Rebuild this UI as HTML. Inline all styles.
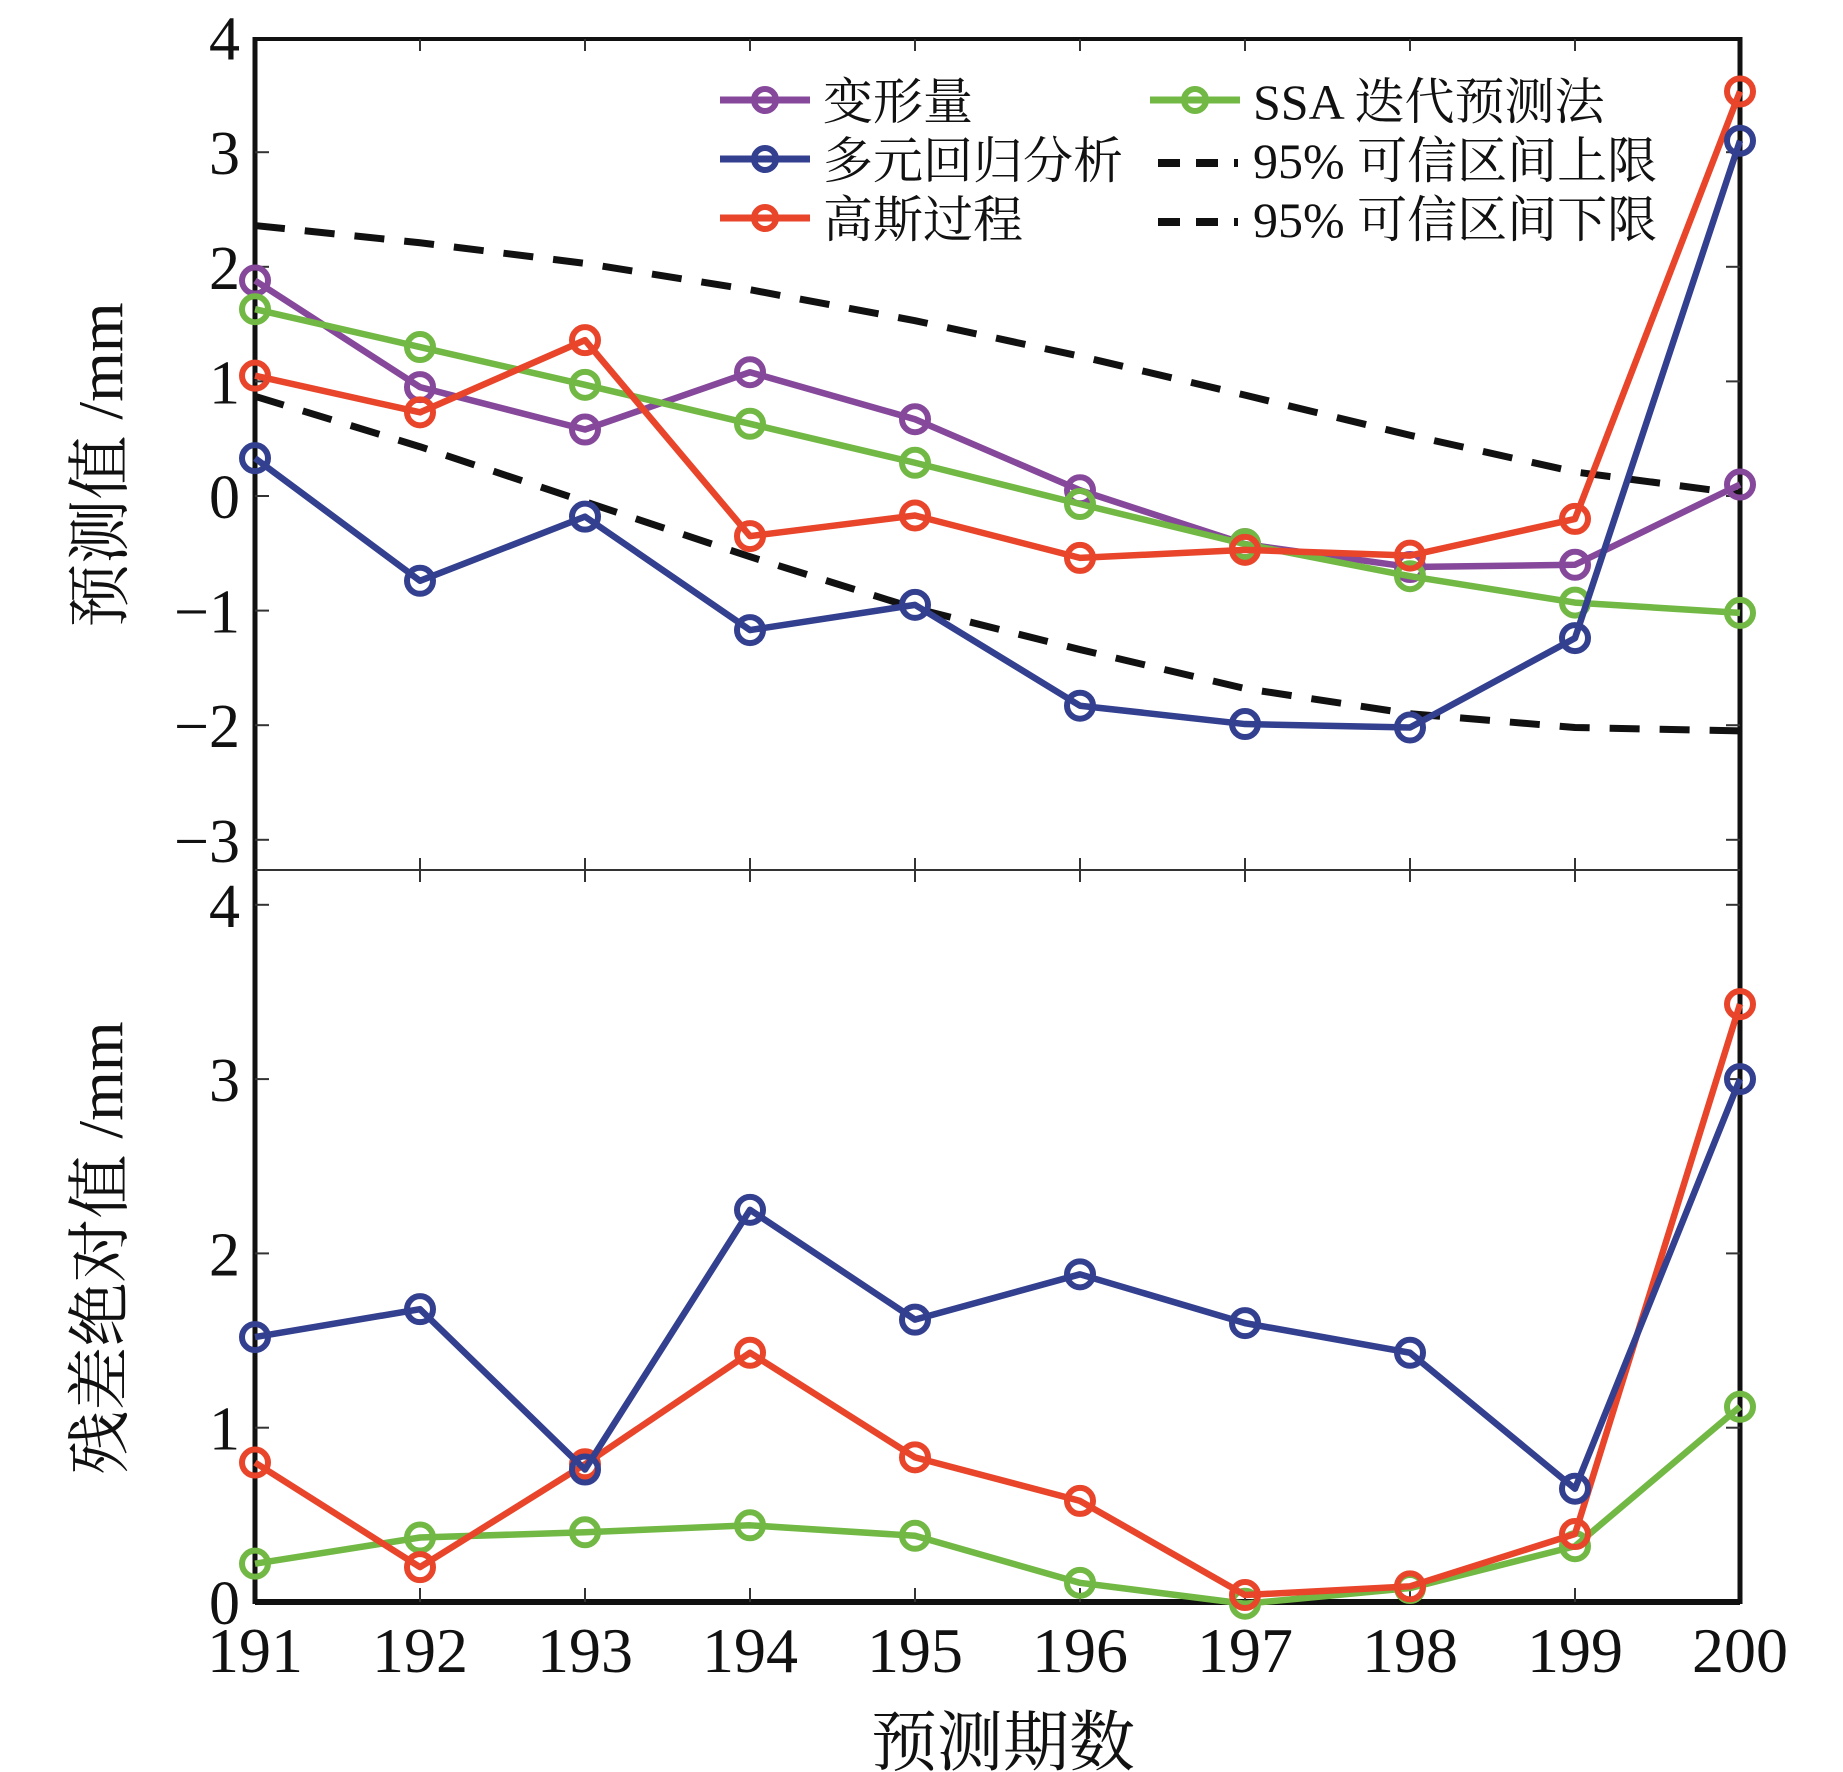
<!DOCTYPE html>
<html><head><meta charset="utf-8"><style>
html,body{margin:0;padding:0;background:#fff;}
svg{display:block;}
text{font-family:"Liberation Serif","Noto Serif CJK SC",serif;fill:#111;}
</style></head><body>
<svg id="chart" width="1843" height="1772" viewBox="0 0 1843 1772" xmlns="http://www.w3.org/2000/svg">
<g id="grid"></g>
<g id="marks"></g>
<g id="legend"></g>
</svg>
<script>
const categories = [191,192,193,194,195,196,197,198,199,200];
const topDeform = [1.88,0.95,0.58,1.08,0.67,0.05,-0.42,-0.62,-0.60,0.10];
const topRegress = [0.33,-0.74,-0.18,-1.17,-0.95,-1.83,-1.99,-2.02,-1.24,3.10];
const topGauss = [1.05,0.73,1.36,-0.35,-0.17,-0.54,-0.47,-0.52,-0.20,3.53];
const topSSA = [1.63,1.30,0.97,0.63,0.29,-0.07,-0.42,-0.70,-0.93,-1.02];
const upperCI = [2.36,2.21,2.03,1.80,1.53,1.22,0.88,0.53,0.21,0.02];
const lowerCI = [0.87,0.43,-0.05,-0.53,-0.98,-1.34,-1.68,-1.90,-2.02,-2.05];
const botRegress = [1.52,1.68,0.76,2.25,1.62,1.88,1.60,1.43,0.65,3.00];
const botGauss = [0.80,0.20,0.79,1.43,0.83,0.58,0.04,0.09,0.39,3.43];
const botSSA = [0.22,0.37,0.40,0.44,0.38,0.11,-0.01,0.08,0.32,1.12];
const topTicks = [4,3,2,1,0,-1,-2,-3];
const topTickLabels = ["4","3","2","1","0","\u22121","\u22122","\u22123"];
const botTicks = [4,3,2,1,0];
const botTickLabels = ["4","3","2","1","0"];

const NS="http://www.w3.org/2000/svg";
const X0=255, X1=1740;
const TOPY=39, DIV=870, BOTY=1602;
function xs(c){return X0+(c-191)*(X1-X0)/9;}
function yTop(v){return 496 - v*114.6;}
function yBot(v){return BOTY - v*174.3;}
function mk(tag,attrs,parent){const e=document.createElementNS(NS,tag);for(const k in attrs)e.setAttribute(k,attrs[k]);parent.appendChild(e);return e;}
const grid=document.getElementById('grid'), marks=document.getElementById('marks'), legend=document.getElementById('legend');

let e;
e=mk('line',{x1:X0,y1:TOPY,x2:X1,y2:TOPY,stroke:'#111','stroke-width':4},grid);


e=mk('line',{x1:X0,y1:TOPY-2,x2:X0,y2:BOTY+2,stroke:'#111','stroke-width':5},grid);


e=mk('line',{x1:X1,y1:TOPY-2,x2:X1,y2:BOTY+2,stroke:'#111','stroke-width':5},grid);


e=mk('line',{x1:X0,y1:BOTY,x2:X1,y2:BOTY,stroke:'#111','stroke-width':6},grid);


e=mk('line',{x1:X0,y1:DIV,x2:X1,y2:DIV,stroke:'#333','stroke-width':2},grid);



categories.forEach((c,i)=>{
  const x=xs(c);
  if(i>0&&i<9){
    mk('line',{x1:x,y1:TOPY,x2:x,y2:TOPY+12,stroke:'#333','stroke-width':2},grid);
    mk('line',{x1:x,y1:DIV-12,x2:x,y2:DIV+12,stroke:'#333','stroke-width':2},grid);
    mk('line',{x1:x,y1:BOTY-14,x2:x,y2:BOTY,stroke:'#333','stroke-width':2},grid);
  }
  const t=mk('text',{x:x,y:1672,'text-anchor':'middle','font-size':64},grid);
  t.textContent=String(c);
  
  
});
topTicks.forEach((v,i)=>{
  const y=yTop(v);
  if(v!==4){
    mk('line',{x1:X0,y1:y,x2:X0+14,y2:y,stroke:'#333','stroke-width':2},grid);
    mk('line',{x1:X1-14,y1:y,x2:X1,y2:y,stroke:'#333','stroke-width':2},grid);
  }
  const t=mk('text',{x:240,y:y+22,'text-anchor':'end','font-size':62},grid);
  t.textContent=topTickLabels[i];
  
  
});
botTicks.forEach((v,i)=>{
  const y=yBot(v);
  if(v!==0){
    mk('line',{x1:X0,y1:y,x2:X0+14,y2:y,stroke:'#333','stroke-width':2},grid);
    mk('line',{x1:X1-14,y1:y,x2:X1,y2:y,stroke:'#333','stroke-width':2},grid);
  }
  const t=mk('text',{x:240,y:y+22,'text-anchor':'end','font-size':62},grid);
  t.textContent=botTickLabels[i];
  
  
});
e=mk('text',{x:0,y:0,'text-anchor':'middle','font-size':64,transform:'translate(122,465) rotate(-90)'},grid);
e.textContent='预测值 /mm';


e=mk('text',{x:0,y:0,'text-anchor':'middle','font-size':64,transform:'translate(122,1248) rotate(-90)'},grid);
e.textContent='残差绝对值 /mm';


e=mk('text',{x:1003,y:1765,'text-anchor':'middle','font-size':66},grid);
e.textContent='预测期数';



function drawLine(vals,yf,color,name,markers,dash){
  const pts=vals.map((v,i)=>xs(categories[i])+','+yf(v)).join(' ');
  const attrs={points:pts,fill:'none',stroke:color,'stroke-width':dash?7:6.5,'stroke-linejoin':'round'};
  if(dash)attrs['stroke-dasharray']='30 20';
  const pl=mk('polyline',attrs,marks);
  
  
  if(markers){
    vals.forEach((v,i)=>{
      const c=mk('circle',{cx:xs(categories[i]),cy:yf(v),r:13,fill:'none',stroke:color,'stroke-width':6},marks);
      
      
    });
  }
}
const PURPLE='#86489a',BLUE='#333f8f',RED='#e8452b',GREEN='#72b844';
drawLine(upperCI,yTop,'#111','upper-ci',false,true);
drawLine(lowerCI,yTop,'#111','lower-ci',false,true);
drawLine(topDeform,yTop,PURPLE,'deformation',true);
drawLine(topSSA,yTop,GREEN,'top-ssa',true);
drawLine(topGauss,yTop,RED,'top-gaussian',true);
drawLine(topRegress,yTop,BLUE,'top-regression',true);
drawLine(botSSA,yBot,GREEN,'bottom-ssa',true);
drawLine(botGauss,yBot,RED,'bottom-gaussian',true);
drawLine(botRegress,yBot,BLUE,'bottom-regression',true);

const legItems=[
 {x:720,y:100,c:PURPLE,t:'变形量',d:false},
 {x:720,y:159,c:BLUE,t:'多元回归分析',d:false},
 {x:720,y:218,c:RED,t:'高斯过程',d:false},
 {x:1150,y:100,c:GREEN,t:'SSA 迭代预测法',d:false},
 {x:1150,y:159,c:'#111',t:'95% 可信区间上限',d:true},
 {x:1150,y:218,c:'#111',t:'95% 可信区间下限',d:true}
];
legItems.forEach(it=>{
  const g=mk('g',{},legend);
  
  
  if(it.d){
    mk('line',{x1:it.x+8,y1:it.y+4,x2:it.x+88,y2:it.y+4,stroke:'#111','stroke-width':8,'stroke-dasharray':'22 16'},g);
  }else{
    mk('line',{x1:it.x,y1:it.y,x2:it.x+90,y2:it.y,stroke:it.c,'stroke-width':7},g);
    mk('circle',{cx:it.x+45,cy:it.y,r:11,fill:'none',stroke:it.c,'stroke-width':6},g);
  }
  const t=mk('text',{x:it.x+103,y:it.y+19,'font-size':50},g);
  t.textContent=it.t;
});
</script>
</body></html>
